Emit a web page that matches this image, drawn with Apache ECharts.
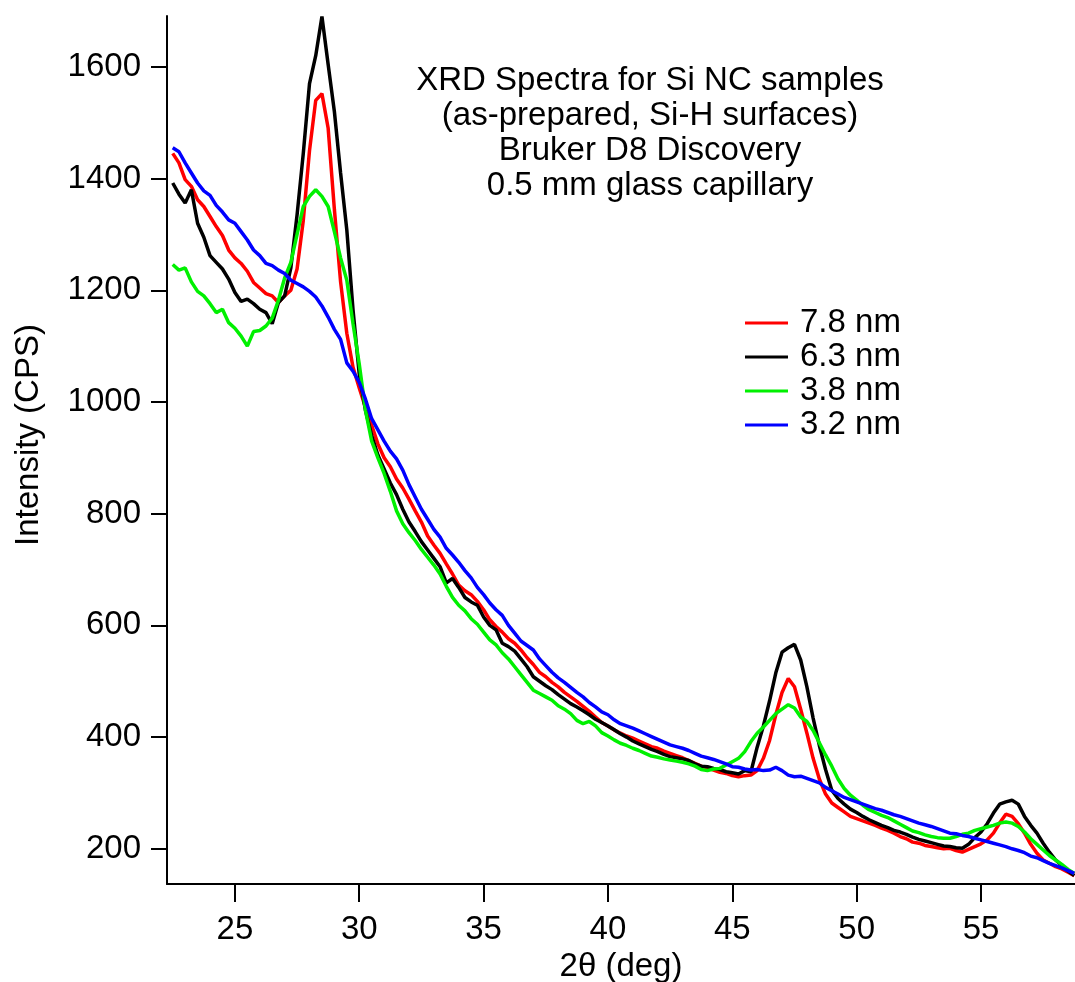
<!DOCTYPE html>
<html>
<head>
<meta charset="utf-8">
<script src="https://cdn.jsdelivr.net/npm/echarts@6/dist/echarts.min.js"></script>
<style>
html,body{margin:0;padding:0;background:#fff;}
#chart{width:1075px;height:982px;}
</style>
</head>
<body>
<div id="chart"></div>
<script>
const twoTheta = [
22.5,22.75,23,23.25,23.5,23.75,24,24.25,24.5,24.75,
25,25.25,25.5,25.75,26,26.25,26.5,26.75,27,27.25,
27.5,27.75,28,28.25,28.5,28.75,29,29.25,29.5,29.75,
30,30.25,30.5,30.75,31,31.25,31.5,31.75,32,32.25,
32.5,32.75,33,33.25,33.5,33.75,34,34.25,34.5,34.75,
35,35.25,35.5,35.75,36,36.25,36.5,36.75,37,37.25,
37.5,37.75,38,38.25,38.5,38.75,39,39.25,39.5,39.75,
40,40.25,40.5,40.75,41,41.25,41.5,41.75,42,42.25,
42.5,42.75,43,43.25,43.5,43.75,44,44.25,44.5,44.75,
45,45.25,45.5,45.75,46,46.25,46.5,46.75,47,47.25,
47.5,47.75,48,48.25,48.5,48.75,49,49.25,49.5,49.75,
50,50.25,50.5,50.75,51,51.25,51.5,51.75,52,52.25,
52.5,52.75,53,53.25,53.5,53.75,54,54.25,54.5,54.75,
55,55.25,55.5,55.75,56,56.25,56.5,56.75,57,57.25,
57.5,57.75,58,58.25,58.5,58.75
];

const nm78 = [
1445,1428,1398,1386,1362,1350,1332,1314,1298,1272,
1258,1248,1234,1214,1204,1194,1190,1178,1190,1200,
1238,1325,1450,1540,1552,1490,1345,1215,1123,1062,
1025,990,958,925,900,884,862,846,826,805,
785,760,744,729,710,692,672,662,655,643,
628,610,598,588,576,568,556,542,530,516,
508,498,490,480,472,464,455,446,436,426,
420,413,407,402,398,393,388,383,380,375,
371,367,363,358,353,348,345,341,337,335,
331,329,331,332,340,362,394,440,480,505,
490,450,407,362,325,298,282,274,266,258,
254,250,246,242,237,233,228,222,218,212,
210,206,204,202,200,201,197,194,199,204,
209,216,228,246,262,258,245,228,208,192,
180,174,168,164,158,152
];

const nm63 = [
1392,1372,1356,1380,1320,1295,1262,1250,1238,1220,
1196,1180,1184,1176,1166,1160,1140,1178,1190,1240,
1335,1445,1570,1620,1690,1604,1520,1410,1308,1165,
1050,985,940,905,880,855,834,808,785,768,
750,735,720,705,676,684,668,650,642,636,
615,600,592,568,562,554,540,526,508,500,
492,485,476,468,460,454,447,440,432,426,
420,413,406,400,393,388,383,378,374,369,
365,363,361,358,352,348,347,344,342,338,
336,334,340,338,382,420,465,515,552,560,
566,538,490,434,385,342,305,290,280,271,
265,258,252,247,242,238,233,230,226,221,
217,214,211,208,205,204,202,201,208,220,
230,245,264,280,284,287,280,258,242,228,
210,194,180,170,160,152
];

const nm38 = [
1246,1236,1240,1215,1198,1190,1176,1160,1166,1142,
1132,1118,1100,1126,1128,1136,1150,1182,1222,1250,
1300,1350,1368,1380,1368,1350,1305,1258,1218,1140,
1068,985,930,900,872,840,805,782,766,752,
736,722,708,692,670,650,636,626,612,602,
588,574,565,551,540,526,512,498,484,478,
472,466,456,450,442,430,424,428,420,408,
402,395,389,385,380,376,371,366,364,361,
359,357,355,352,348,342,340,343,344,350,
356,362,374,392,407,418,430,442,450,458,
452,436,428,412,390,368,348,325,308,296,
287,278,270,265,260,256,250,244,238,232,
229,225,222,220,219,219,222,226,228,233,
236,239,242,246,248,246,240,230,218,208,
198,188,180,172,163,156
];

const nm32 = [
1455,1448,1428,1410,1392,1378,1370,1352,1340,1326,
1320,1305,1290,1272,1262,1248,1244,1236,1230,1218,
1212,1206,1198,1188,1172,1152,1130,1112,1070,1055,
1035,1005,970,950,930,912,898,878,852,830,
808,790,772,758,738,726,713,698,685,668,
655,640,628,618,600,586,572,564,556,540,
528,516,506,498,489,480,472,462,454,445,
440,431,424,420,416,411,406,401,396,391,
386,383,380,376,371,366,363,360,356,352,
347,346,343,341,342,340,341,346,340,332,
329,330,326,322,318,310,304,298,292,288,
284,280,276,272,269,265,261,258,254,250,
246,243,240,236,232,228,227,224,222,219,
216,213,210,207,204,200,197,193,187,184,
179,174,170,166,161,156
];

const seriesNames = ['7.8 nm', '6.3 nm', '3.8 nm', '3.2 nm'];
const seriesValues = [nm78, nm63, nm38, nm32];
const seriesColors = ['#ff0000', '#000000', '#00f000', '#0000ff'];
const xTicks = [25, 30, 35, 40, 45, 50, 55];
const yTicks = [200, 400, 600, 800, 1000, 1200, 1400, 1600];
const titleLines = ['XRD Spectra for Si NC samples', '(as-prepared, Si-H surfaces)', 'Bruker D8 Discovery', '0.5 mm glass capillary'];

const FONT = 'Liberation Sans, Arial, Helvetica, sans-serif';
const FS = 33;
const chart = echarts.init(document.getElementById('chart'), null, {renderer: 'canvas'});

chart.setOption({
  animation: false,
  backgroundColor: '#ffffff',
  textStyle: {fontFamily: FONT, color: '#000'},
  title: {
    text: titleLines.join('\n'),
    left: 650,
    top: 63,
    textAlign: 'center',
    padding: 0,
    textStyle: {fontFamily: FONT, fontSize: FS, fontWeight: 'normal', color: '#000', lineHeight: 35}
  },
  legend: {
    orient: 'vertical',
    left: 745,
    top: 306,
    padding: 0,
    itemWidth: 43,
    itemHeight: 3,
    itemGap: 0,
    icon: 'rect',
    data: seriesNames,
    textStyle: {fontFamily: FONT, fontSize: FS, color: '#000', lineHeight: 34, padding: [0, 0, 0, 7]}
  },
  grid: {left: 167, right: 0, top: 16, bottom: 98, containLabel: false, outerBoundsMode: 'none'},
  xAxis: {
    type: 'value',
    min: 22.27,
    max: 58.78,
    name: '2θ (deg)',
    nameLocation: 'middle',
    nameGap: 63,
    nameTextStyle: {fontFamily: FONT, fontSize: FS, color: '#000'},
    axisLine: {show: true, onZero: false, lineStyle: {color: '#000', width: 2}},
    axisTick: {show: true, inside: false, length: 18, customValues: xTicks, lineStyle: {color: '#000', width: 2}},
    axisLabel: {show: true, margin: 29, customValues: xTicks, fontFamily: FONT, fontSize: FS, color: '#000',
      formatter: v => String(v)},
    splitLine: {show: false}
  },
  yAxis: {
    type: 'value',
    min: 137,
    max: 1691,
    name: 'Intensity (CPS)',
    nameLocation: 'middle',
    nameGap: 122,
    nameRotate: 90,
    nameTextStyle: {fontFamily: FONT, fontSize: FS, color: '#000', padding: [0, 0, 0, 30]},
    axisLine: {show: true, onZero: false, lineStyle: {color: '#000', width: 2}},
    axisTick: {show: true, inside: false, length: 16, customValues: yTicks, lineStyle: {color: '#000', width: 2}},
    axisLabel: {show: true, margin: 26, customValues: yTicks, fontFamily: FONT, fontSize: FS, color: '#000',
      formatter: v => String(v)},
    splitLine: {show: false}
  },
  series: seriesNames.map((name, k) => ({
    name: name,
    type: 'line',
    data: twoTheta.map((x, i) => [x, seriesValues[k][i]]),
    showSymbol: false,
    symbol: 'none',
    clip: true,
    lineStyle: {color: seriesColors[k], width: 3.5},
    itemStyle: {color: seriesColors[k]}
  }))
});
</script>
</body>
</html>
